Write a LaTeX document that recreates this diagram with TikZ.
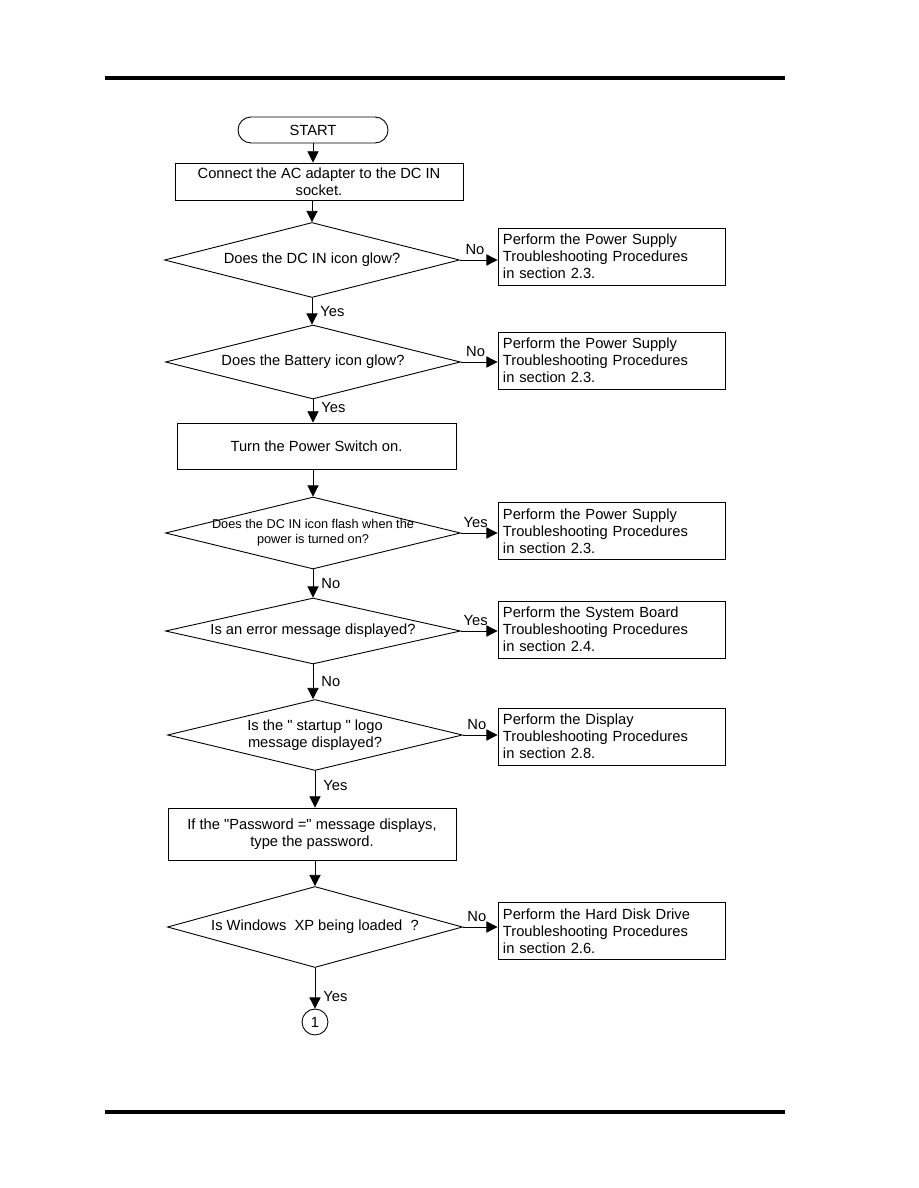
\documentclass[tikz,border=0pt]{standalone}
\usepackage{fontspec}
\setmainfont{Liberation Sans}[Ligatures=TeXOff]
\usetikzlibrary{shapes.geometric,arrows.meta}
\tikzset{
  terminal/.style={draw,rounded corners=8.6pt,minimum width=100pt,minimum height=17.3pt,inner sep=0pt},
  process/.style={draw,align=center,inner sep=1pt},
  decision/.style={draw,diamond,minimum width=196.7pt,minimum height=#1,inner sep=0pt},
  decision/.default=49pt,
  action/.style={draw,align=left,text width=144.7pt,inner xsep=3.3pt,minimum height=38pt},
  flow/.style={-{Triangle[length=7.5pt,width=7.5pt]}},
  connector/.style={draw,circle,minimum size=17.3pt,inner sep=0pt},
  answer/.style={right=2pt},
}
\begin{document}
\begin{tikzpicture}[x=0.6667pt,y=-0.6667pt,line width=0.6pt,font=\fontsize{9.8pt}{11.3pt}\selectfont]
  \useasboundingbox (0,0) rectangle (918,1188);
  \draw[line width=2.7pt] (105,78) -- (785,78);
  \draw[line width=2.3pt] (105,1112) -- (785,1112);

  \node[terminal] (start) at (313,130) {START};
  \node[process,minimum width=192pt,minimum height=24.7pt] (adapter) at (319,181.5) {Connect the AC adapter to the DC IN\\socket.};
  \node[decision=50pt,label={[align=center]center:Does the DC IN icon glow?}] (dcin) at (312,260) {};
  \node[decision=49.3pt,label={[align=center]center:Does the Battery icon glow?}] (batt) at (313,362) {};
  \node[process,minimum width=186pt,minimum height=30.7pt] (power) at (316.5,446) {Turn the Power Switch on.};
  \node[decision=48pt,label={[align=center,font=\fontsize{8.5pt}{10pt}\selectfont]center:{Does the DC IN icon flash when the\\power is turned on?}}] (flash) at (313,533) {};
  \node[decision=44pt,label={[align=center]center:Is an error message displayed?}] (error) at (313,631) {};
  \node[decision=47.3pt,label={[align=center]center:{Is the " startup " logo\\message displayed?}}] (logo) at (315,735) {};
  \node[process,minimum width=192pt,minimum height=34.7pt] (passwd) at (312,834) {If the "Password =" message displays,\\type the password.};
  \node[decision=54pt,label={[align=center]center:{Is Windows\ \ XP being loaded\ \ ?}}] (winxp) at (315,927) {};
  \node[connector] (one) at (315,1022) {1};

  \node[action] (psu1) at (611.5,256.5) {Perform the Power Supply\\Troubleshooting Procedures\\in section 2.3.};
  \node[action] (psu2) at (611.5,360.5) {Perform the Power Supply\\Troubleshooting Procedures\\in section 2.3.};
  \node[action] (psu3) at (611.5,531) {Perform the Power Supply\\Troubleshooting Procedures\\in section 2.3.};
  \node[action] (board) at (611.5,629.5) {Perform the System Board\\Troubleshooting Procedures\\in section 2.4.};
  \node[action] (display) at (611.5,736.5) {Perform the Display\\Troubleshooting Procedures\\in section 2.8.};
  \node[action] (hdd) at (611.5,931) {Perform the Hard Disk Drive\\Troubleshooting Procedures\\in section 2.6.};

  \draw[flow] (start.south) -- (start.south |- adapter.north);
  \draw[flow] (adapter.south -| dcin.north) -- (dcin.north);
  \draw[flow] (dcin.south) -- (dcin.south |- batt.north) node[midway,answer] {Yes};
  \draw[flow] (batt.south) -- (batt.south |- power.north) node[pos=0.35,answer] {Yes};
  \draw[flow] (power.south -| flash.north) -- (flash.north);
  \draw[flow] (flash.south) -- (flash.south |- error.north) node[midway,answer] {No};
  \draw[flow] (error.south) -- (error.south |- logo.north) node[midway,answer] {No};
  \draw[flow] (logo.south) -- (logo.south |- passwd.north) node[pos=0.4,answer] {Yes};
  \draw[flow] (passwd.south -| winxp.north) -- (winxp.north);
  \draw[flow] (winxp.south) -- (one.north) node[pos=0.7,answer] {Yes};

  \draw[flow] (dcin.east) -- (dcin.east -| psu1.west) node[pos=0.4,above] {No};
  \draw[flow] (batt.east) -- (batt.east -| psu2.west) node[pos=0.4,above] {No};
  \draw[flow] (flash.east) -- (flash.east -| psu3.west) node[pos=0.4,above] {Yes};
  \draw[flow] (error.east) -- (error.east -| board.west) node[pos=0.4,above] {Yes};
  \draw[flow] (logo.east) -- (logo.east -| display.west) node[pos=0.4,above] {No};
  \draw[flow] (winxp.east) -- (winxp.east -| hdd.west) node[pos=0.4,above] {No};
\end{tikzpicture}
\end{document}
